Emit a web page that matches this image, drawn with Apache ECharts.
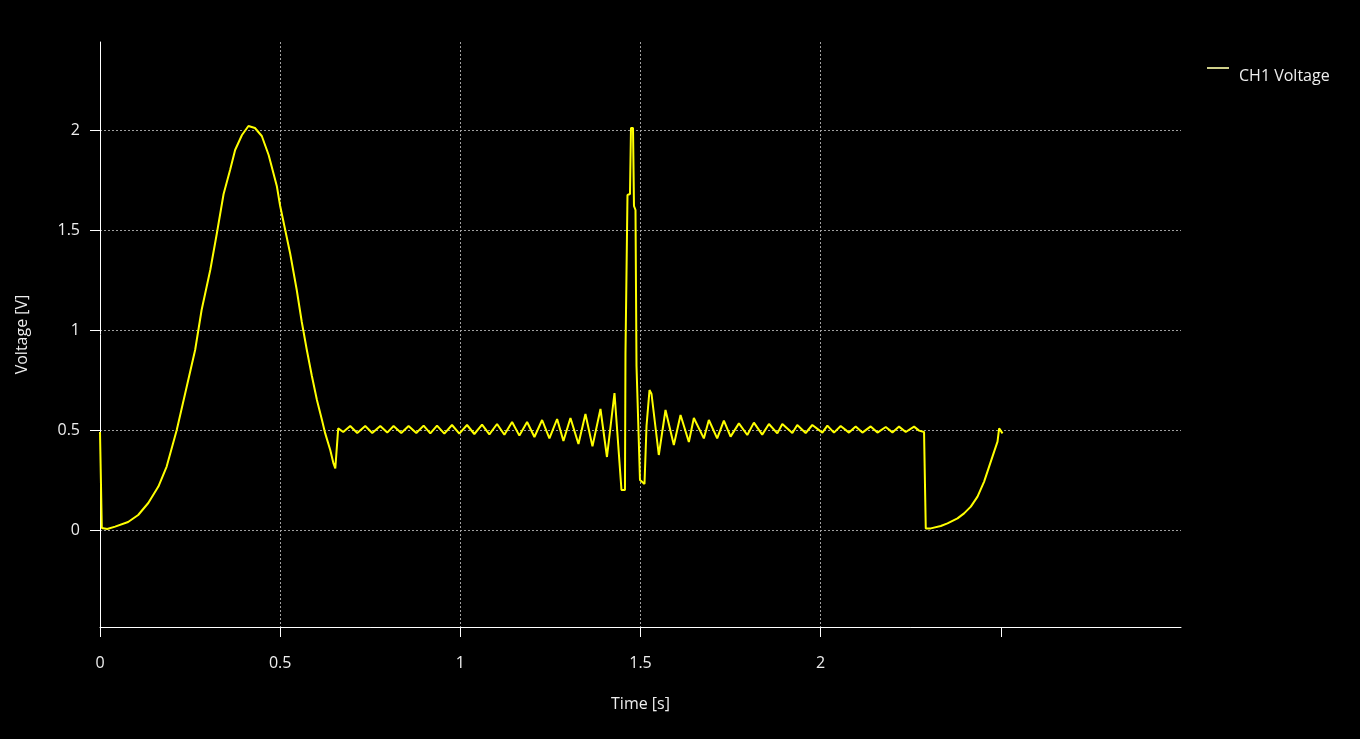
<!DOCTYPE html>
<html>
<head>
<meta charset="utf-8">
<script src="https://cdn.jsdelivr.net/npm/echarts@6/dist/echarts.min.js"></script>
<style>
html,body{margin:0;padding:0;background:#000;}
#chart{width:1360px;height:739px;}
</style>
</head>
<body>
<div id="chart"></div>
<script>
// Time samples [s]
const timeS = [
  0, 0.004, 0.005, 0.02, 0.042, 0.078, 0.106, 0.134, 0.162, 0.185,
  0.213, 0.236, 0.264, 0.282, 0.306, 0.324, 0.343, 0.361, 0.375, 0.394,
  0.412, 0.43, 0.449, 0.468, 0.491, 0.5, 0.514, 0.528, 0.546, 0.56,
  0.574, 0.588, 0.602, 0.616, 0.625, 0.639, 0.648, 0.653, 0.658, 0.6611,
  0.675, 0.6944, 0.7139, 0.7361, 0.7556, 0.7778, 0.7972, 0.8147, 0.8361, 0.8564,
  0.8778, 0.8981, 0.9167, 0.9353, 0.9556, 0.9769, 0.9972, 1.0186, 1.0389, 1.0603,
  1.0806, 1.1019, 1.1222, 1.1436, 1.1639, 1.1853, 1.2056, 1.2269, 1.2472, 1.2686,
  1.2861, 1.3056, 1.3278, 1.3472, 1.3667, 1.3889, 1.4069, 1.4278, 1.4472, 1.4514,
  1.4569, 1.4583, 1.4611, 1.4639, 1.4708, 1.4736, 1.4792, 1.4819, 1.4861, 1.4889,
  1.4931, 1.4986, 1.5111, 1.5167, 1.525, 1.5306, 1.5508, 1.5694, 1.5925, 1.6111,
  1.6342, 1.6481, 1.6758, 1.6897, 1.7128, 1.7314, 1.75, 1.7731, 1.7964, 1.8147,
  1.8378, 1.8564, 1.8797, 1.8936, 1.9214, 1.935, 1.9583, 1.9769, 2.0047, 2.0186,
  2.0369, 2.0556, 2.0786, 2.0972, 2.1158, 2.1389, 2.1575, 2.1806, 2.1992, 2.2175,
  2.2361, 2.2592, 2.2731, 2.2869, 2.29, 2.2917, 2.3056, 2.3333, 2.3519, 2.3797,
  2.398, 2.4167, 2.4353, 2.4536, 2.4675, 2.4814, 2.4908, 2.4953, 2.5, 2.5047
];
// CH1 voltage [V]
const ch1V = [
  0.49, 0.49, 0.01, 0.005, 0.017, 0.04, 0.075, 0.135, 0.217, 0.317,
  0.5, 0.68, 0.9, 1.1, 1.3, 1.48, 1.68, 1.8, 1.9, 1.975,
  2.02, 2.01, 1.97, 1.875, 1.717, 1.62, 1.5, 1.38, 1.2, 1.04,
  0.9, 0.77, 0.65, 0.55, 0.483, 0.4, 0.333, 0.308, 0.308, 0.508,
  0.49, 0.52, 0.485, 0.52, 0.485, 0.52, 0.487, 0.52, 0.485, 0.52,
  0.485, 0.522, 0.483, 0.522, 0.482, 0.525, 0.482, 0.525, 0.48, 0.527,
  0.478, 0.53, 0.476, 0.54, 0.472, 0.54, 0.465, 0.55, 0.458, 0.555,
  0.445, 0.56, 0.43, 0.58, 0.418, 0.605, 0.365, 0.685, 0.2, 0.2,
  0.2, 0.885, 0.885, 1.675, 1.68, 2.01, 2.01, 1.62, 1.6, 0.82,
  0.82, 0.25, 0.23, 0.52, 0.70, 0.68, 0.375, 0.6, 0.425, 0.575,
  0.44, 0.56, 0.458, 0.55, 0.458, 0.547, 0.467, 0.533, 0.475, 0.537,
  0.477, 0.53, 0.483, 0.53, 0.485, 0.525, 0.485, 0.525, 0.487, 0.522,
  0.487, 0.52, 0.487, 0.518, 0.487, 0.518, 0.487, 0.515, 0.488, 0.517,
  0.49, 0.517, 0.497, 0.49, 0.49, 0.008, 0.008, 0.02, 0.033, 0.058,
  0.083, 0.117, 0.167, 0.242, 0.317, 0.392, 0.442, 0.508, 0.5, 0.483
];
const xTickValues = [0, 0.5, 1, 1.5, 2, 2.5];
const xLabelValues = [0, 0.5, 1, 1.5, 2];
const yTickValues = [0, 0.5, 1, 1.5, 2];

const seriesData = timeS.map((t, i) => [t, ch1V[i]]);
const FONT = '"Open Sans", "Noto Sans", sans-serif';
const gridLine = { show: true, showMinLine: false, showMaxLine: false,
  lineStyle: { color: '#a0a0a0', type: [2, 2], width: 1 } };
// legend icon: short bar sitting at the top of the item box, text centred lower
const legendIcon = 'path://M0,0h22v2h-22z M0,17.99h0.01v0.01h-0.01z';

const chart = echarts.init(document.getElementById('chart'), null, { renderer: 'canvas' });
chart.setOption({
  backgroundColor: '#000000',
  animation: false,
  textStyle: { fontFamily: FONT },
  grid: { left: 100, right: 179, top: 42, bottom: 112, containLabel: false },
  legend: {
    data: [{ name: 'CH1 Voltage', icon: legendIcon }],
    left: 1207, top: 67, padding: 0,
    itemWidth: 22, itemHeight: 18, itemGap: 10,
    itemStyle: { color: '#cfcf8a' },
    textStyle: { color: '#eeeeee', fontSize: 16, fontFamily: FONT, padding: [0, 0, 0, 5] }
  },
  xAxis: {
    type: 'value', min: 0, max: 3,
    name: 'Time [s]', nameLocation: 'middle', nameGap: 69,
    nameTextStyle: { color: '#eeeeee', fontSize: 16, fontFamily: FONT },
    axisLine: { show: true, onZero: false, lineStyle: { color: '#ffffff', width: 1 } },
    axisTick: { show: true, length: 10, customValues: xTickValues, lineStyle: { color: '#ffffff' } },
    axisLabel: { color: '#eeeeee', fontSize: 16, fontFamily: FONT, margin: 28, customValues: xLabelValues },
    splitLine: gridLine
  },
  yAxis: {
    type: 'value', min: -0.485, max: 2.44,
    name: 'Voltage [V]', nameLocation: 'middle', nameGap: 70,
    nameTextStyle: { color: '#eeeeee', fontSize: 16, fontFamily: FONT },
    axisLine: { show: true, onZero: false, lineStyle: { color: '#ffffff', width: 1 } },
    axisTick: { show: true, length: 10, customValues: yTickValues, lineStyle: { color: '#ffffff' } },
    axisLabel: { color: '#eeeeee', fontSize: 16, fontFamily: FONT, margin: 20, customValues: yTickValues },
    splitLine: { show: true, lineStyle: { color: '#a0a0a0', type: [2, 2], width: 1 } }
  },
  series: [{
    name: 'CH1 Voltage',
    type: 'line',
    data: seriesData,
    symbol: 'none',
    lineStyle: { color: '#ffff00', width: 2 },
    itemStyle: { color: '#ffff00' },
    z: 3
  }]
});
</script>
</body>
</html>
